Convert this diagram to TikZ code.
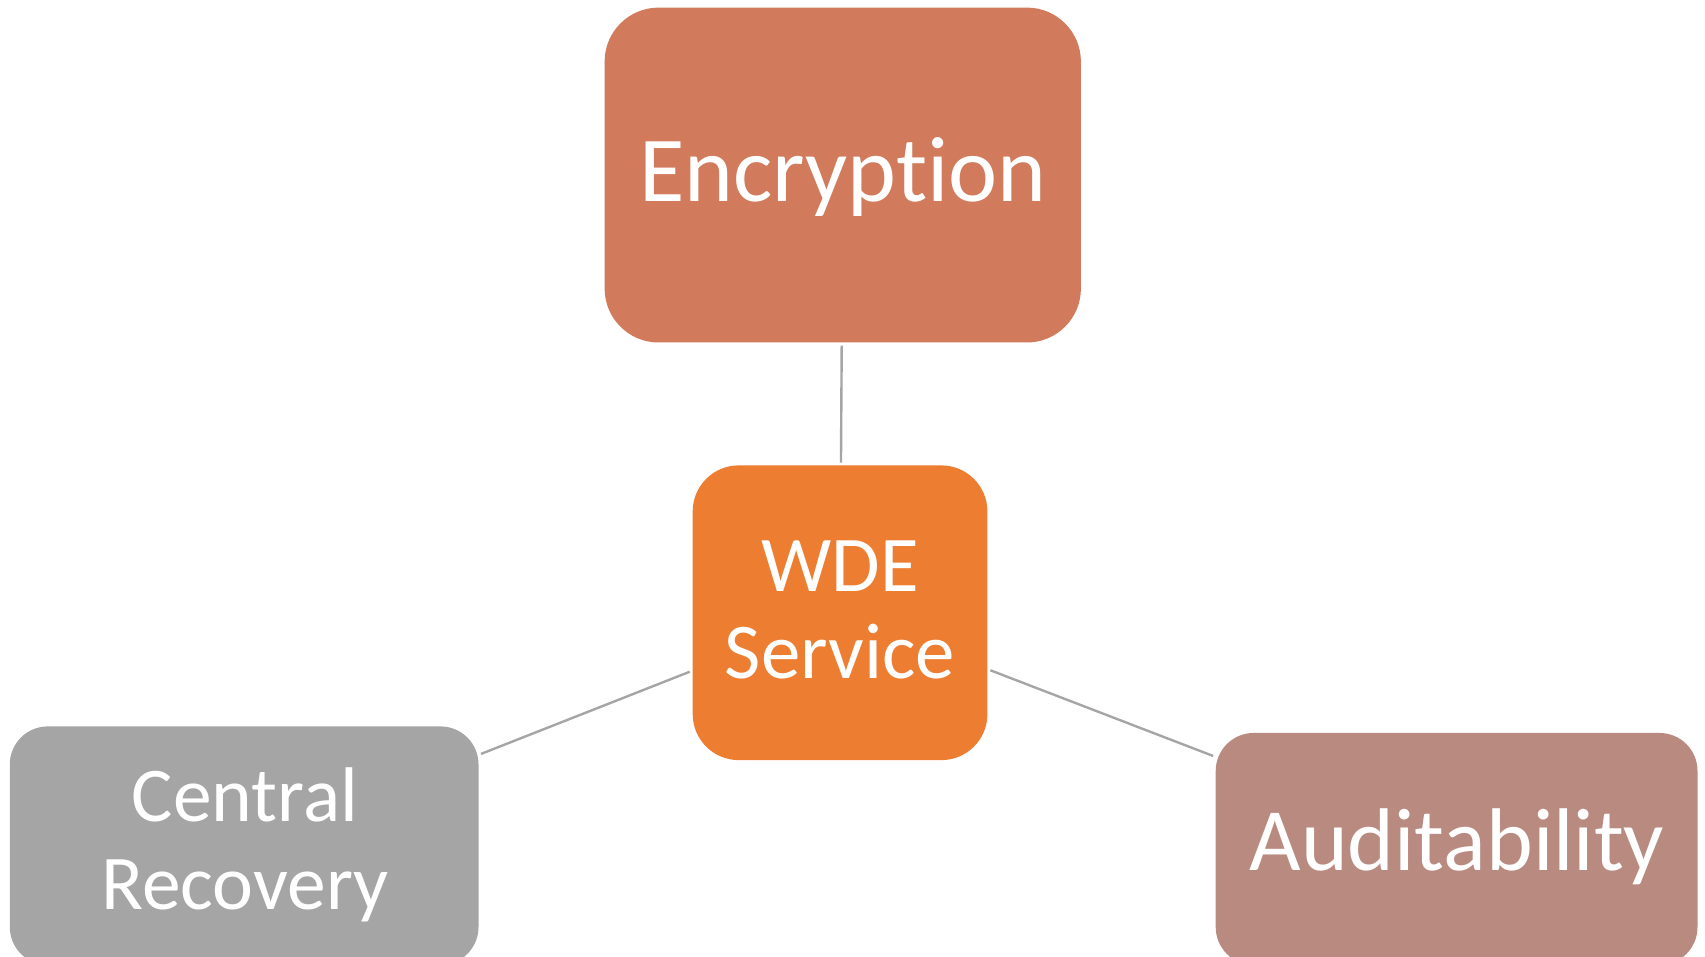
\documentclass[tikz,border=0pt]{standalone}
\usepackage{fontspec}
\setmainfont[Ligatures=NoCommon,RawFeature={-liga;-dlig}]{Carlito}
\definecolor{encfill}{HTML}{D17A5C}
\definecolor{wdefill}{HTML}{ED7D31}
\definecolor{recfill}{HTML}{A5A5A5}
\definecolor{audfill}{HTML}{B98A80}
\definecolor{linkgray}{HTML}{A5A5A5}
\begin{document}
\begin{tikzpicture}[x=1pt,y=-1pt,
  box/.style={rectangle, inner sep=0pt, draw=none},
  lbl/.style={text=white, inner sep=0pt, anchor=base},
  link/.style={draw=linkgray, line width=2.4pt, shorten <=3pt, shorten >=2.5pt}]
  \path[use as bounding box] (0,0) rectangle (1705,957);
  \clip (0,0) rectangle (1705,957);

  % boxes
  \node[box, fill=encfill, rounded corners=54pt, minimum width=476.3pt, minimum height=334.9pt] (enc) at (842.75,175.05) {};
  \node[box, fill=wdefill, rounded corners=46pt, minimum width=294.7pt, minimum height=294.7pt] (wde) at (840.05,612.75) {};
  \node[box, fill=recfill, rounded corners=38pt, minimum width=468.7pt, minimum height=238.6pt] (rec) at (244.15,845.7) {};
  \node[box, fill=audfill, rounded corners=38pt, minimum width=481.8pt, minimum height=232.1pt] (aud) at (1456.6,849) {};

  % connectors
  \draw[link] (enc) -- (wde);
  \draw[link] (wde) -- (rec);
  \draw[link] (wde) -- (aud);

  % labels
  \node[lbl, font=\fontsize{93}{93}\selectfont] (enct) at (843,202) {Encryption};
  \node[lbl, font=\fontsize{79}{79}\selectfont] (wdet1) at (840,591.5) {WDE};
  \node[lbl, font=\fontsize{79}{79}\selectfont] (wdet2) at (840,678.5) {Service};
  \node[lbl, font=\fontsize{77.5}{77.5}\selectfont] (rect1) at (245,821) {Central};
  \node[lbl, font=\fontsize{77.5}{77.5}\selectfont] (rect2) at (245,909) {Recovery};
  \node[lbl, font=\fontsize{89}{89}\selectfont] (audt) at (1457,870) {Auditability};
\end{tikzpicture}
\end{document}
